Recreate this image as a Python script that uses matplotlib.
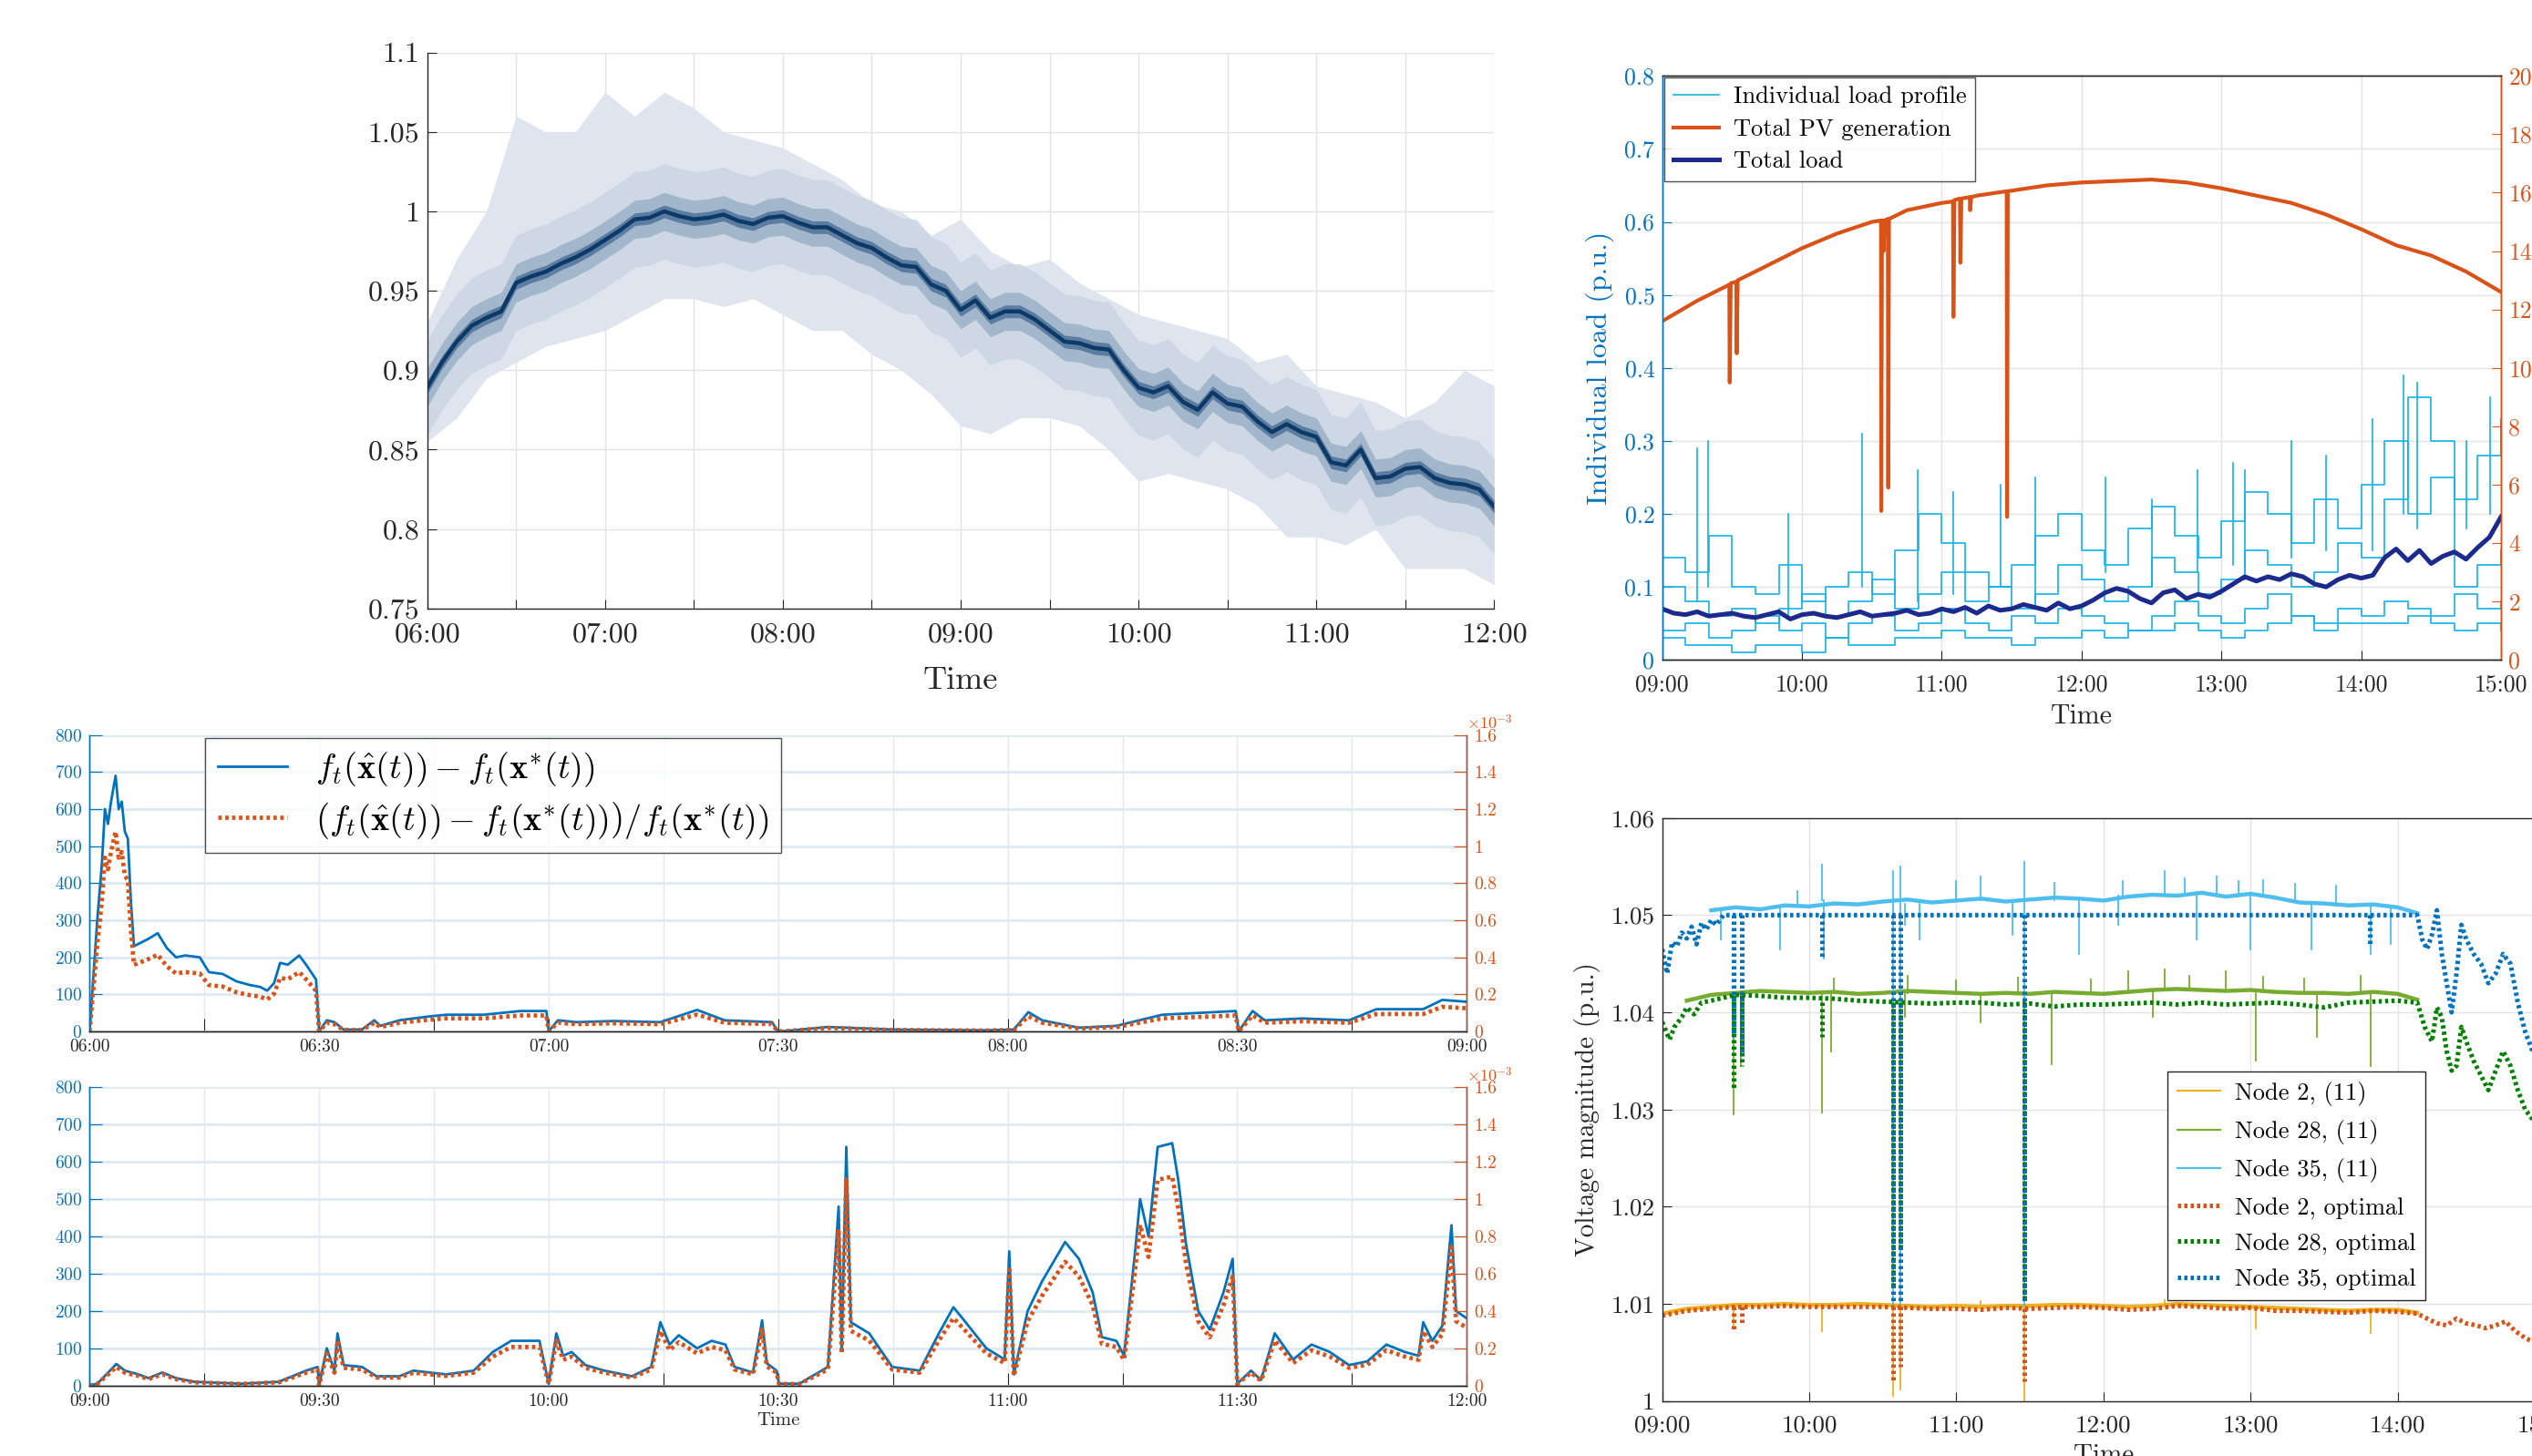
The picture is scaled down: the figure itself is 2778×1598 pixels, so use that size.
import numpy as np
import matplotlib
matplotlib.use("Agg")
from matplotlib import pyplot as plt
from matplotlib.lines import Line2D

plt.rcParams['font.family'] = 'cmr10'
plt.rcParams['mathtext.fontset'] = 'cm'
plt.rcParams['axes.unicode_minus'] = False
plt.rcParams['axes.formatter.use_mathtext'] = True

W, H = 2778, 1598
DARK = '#262626'
GRID = '#E3E3E3'
BLUE = '#0072BD'
ORANGE = '#D95319'

# ---------------- panel 1 : ensemble of normalised profiles (06:00-12:00, 5 min)
ens_mean = [0.889, 0.905, 0.918, 0.928, 0.933, 0.937, 0.955, 0.959, 0.962, 0.967, 0.971, 0.976,
            0.982, 0.988, 0.995, 0.996, 1.000, 0.997, 0.995, 0.996, 0.998, 0.994, 0.992, 0.996,
            0.997, 0.993, 0.990, 0.990, 0.985, 0.980, 0.977, 0.971, 0.966, 0.965, 0.954, 0.950,
            0.938, 0.944, 0.933, 0.937, 0.937, 0.932, 0.925, 0.918, 0.917, 0.914, 0.913, 0.900,
            0.889, 0.886, 0.890, 0.880, 0.875, 0.886, 0.879, 0.877, 0.868, 0.861, 0.866, 0.861,
            0.858, 0.842, 0.840, 0.850, 0.832, 0.833, 0.838, 0.839, 0.832, 0.829, 0.828, 0.825,
            0.814]
# spread of the individual profiles (10 min)
ens_upper = [0.93, 0.97, 1.00, 1.06, 1.05, 1.05, 1.075, 1.06, 1.075, 1.065, 1.05, 1.045, 1.04,
             1.03, 1.02, 1.005, 1.0, 0.985, 0.995, 0.975, 0.965, 0.97, 0.955, 0.945, 0.935, 0.93,
             0.925, 0.92, 0.905, 0.91, 0.89, 0.885, 0.88, 0.87, 0.88, 0.9, 0.89]
ens_lower = [0.855, 0.87, 0.895, 0.905, 0.915, 0.92, 0.925, 0.935, 0.945, 0.945, 0.94, 0.945,
             0.935, 0.925, 0.925, 0.91, 0.9, 0.885, 0.865, 0.86, 0.87, 0.87, 0.865, 0.85, 0.83,
             0.835, 0.83, 0.825, 0.815, 0.795, 0.795, 0.79, 0.8, 0.775, 0.775, 0.775, 0.765]

# ---------------- panel 2 : loads and PV (09:00-15:00)
load_a = [0.14, 0.12, 0.17, 0.10, 0.09, 0.13, 0.08, 0.10, 0.12, 0.09, 0.15, 0.20, 0.16, 0.12,
          0.10, 0.13, 0.17, 0.20, 0.15, 0.13, 0.18, 0.21, 0.17, 0.14, 0.19, 0.23, 0.20, 0.16,
          0.22, 0.18, 0.24, 0.30, 0.20, 0.25, 0.22, 0.28, 0.33]
load_b = [0.10, 0.08, 0.06, 0.07, 0.05, 0.07, 0.09, 0.06, 0.08, 0.11, 0.07, 0.09, 0.12, 0.08,
          0.10, 0.07, 0.09, 0.13, 0.11, 0.08, 0.10, 0.14, 0.12, 0.09, 0.11, 0.15, 0.13, 0.10,
          0.12, 0.16, 0.14, 0.22, 0.36, 0.30, 0.10, 0.13, 0.15]
load_c = [0.04, 0.05, 0.03, 0.04, 0.06, 0.04, 0.05, 0.03, 0.05, 0.06, 0.04, 0.05, 0.07, 0.05,
          0.04, 0.06, 0.05, 0.07, 0.06, 0.05, 0.04, 0.06, 0.08, 0.06, 0.05, 0.07, 0.09, 0.06,
          0.05, 0.07, 0.06, 0.08, 0.07, 0.06, 0.09, 0.07, 0.08]
load_d = [0.03, 0.02, 0.02, 0.01, 0.02, 0.02, 0.01, 0.03, 0.02, 0.02, 0.03, 0.03, 0.04, 0.03,
          0.03, 0.02, 0.03, 0.03, 0.04, 0.03, 0.04, 0.04, 0.05, 0.04, 0.03, 0.04, 0.05, 0.06,
          0.04, 0.05, 0.05, 0.05, 0.06, 0.05, 0.04, 0.05, 0.04]
# (hour, bottom, top) of short load peaks
load_spikes = [(9.25, 0.08, 0.29), (9.33, 0.10, 0.30), (9.9, 0.06, 0.2), (10.43, 0.10, 0.31),
               (10.83, 0.08, 0.26), (11.08, 0.09, 0.23), (11.42, 0.10, 0.24), (11.67, 0.08, 0.25),
               (12.17, 0.12, 0.25), (12.5, 0.10, 0.22), (12.83, 0.12, 0.26), (13.08, 0.13, 0.27),
               (13.17, 0.12, 0.26), (13.5, 0.14, 0.30), (13.75, 0.15, 0.28), (14.08, 0.15, 0.33),
               (14.3, 0.20, 0.39), (14.4, 0.18, 0.38), (14.75, 0.18, 0.30), (14.92, 0.20, 0.36)]
# total load, right axis, 5 min
total_load = [1.75, 1.60, 1.55, 1.65, 1.50, 1.55, 1.60, 1.50, 1.45, 1.55, 1.65, 1.40,
              1.55, 1.60, 1.50, 1.45, 1.55, 1.65, 1.50, 1.55, 1.60, 1.70, 1.55, 1.60,
              1.75, 1.65, 1.80, 1.60, 1.85, 1.70, 1.75, 1.90, 1.80, 1.70, 1.95, 1.75,
              1.85, 2.05, 2.30, 2.45, 2.35, 2.10, 1.95, 2.30, 2.40, 2.10, 2.25, 2.15,
              2.35, 2.60, 2.85, 2.70, 2.85, 2.75, 2.95, 2.85, 2.60, 2.50, 2.75, 2.90,
              2.80, 2.90, 3.50, 3.80, 3.40, 3.75, 3.30, 3.55, 3.70, 3.45, 3.85, 4.20,
              4.90]
pv_hour = [9.0, 9.25, 9.48, 9.483, 9.49, 9.53, 9.533, 9.54, 9.75, 10.0, 10.25, 10.5, 10.565,
           10.567, 10.572, 10.58, 10.583, 10.59, 10.614, 10.617, 10.622, 10.75, 11.0, 11.08,
           11.083, 11.09, 11.13, 11.133, 11.14, 11.2, 11.203, 11.21, 11.25, 11.464, 11.467,
           11.472, 11.75, 12.0, 12.25, 12.5, 12.75, 13.0, 13.25, 13.5, 13.75, 14.0, 14.25,
           14.5, 14.75, 15.0]
pv_value = [11.6, 12.3, 12.85, 9.5, 12.9, 12.95, 10.5, 13.0, 13.5, 14.1, 14.6, 15.0, 15.05,
            5.1, 15.05, 15.05, 14.0, 15.05, 15.1, 5.9, 15.1, 15.4, 15.65, 15.7, 11.75, 15.75,
            15.8, 13.6, 15.8, 15.85, 15.4, 15.85, 15.9, 16.05, 4.9, 16.05, 16.25, 16.35, 16.4,
            16.45, 16.35, 16.15, 15.9, 15.65, 15.25, 14.75, 14.2, 13.85, 13.3, 12.6]

# ---------------- panels 3 and 4 : cost gap (minutes after start)
gap1_min = [0, 0.5, 1, 1.6, 2, 2.4, 2.8, 3.4, 3.8, 4.2, 4.6, 5, 5.4, 5.8, 7.7, 8.9, 10.1, 11.3,
            12.5, 14.4, 15.6, 17.4, 19.2, 21, 22.3, 23.2, 24.1, 24.9, 25.9, 27.4, 28.3, 29.6,
            30, 31, 32, 33.2, 35.6, 37.2, 38, 40.5, 44.2, 46.6, 51.5, 56.3, 59.7, 60, 61.2,
            63.6, 68.5, 74.6, 79.4, 83, 89.2, 89.8, 90.4, 96.5, 105, 117, 120.8, 122.7, 124.5,
            129.3, 134.2, 140.2, 145.1, 149.8, 150.2, 152, 153.6, 158.5, 164.6, 168.2, 174.3,
            176.8, 180]
gap1_val = [0, 150, 300, 450, 600, 560, 620, 690, 600, 620, 540, 520, 350, 230, 250, 265, 225,
            200, 205, 200, 160, 155, 135, 125, 120, 110, 130, 185, 180, 205, 180, 140, 0, 30,
            25, 5, 5, 30, 15, 30, 40, 45, 45, 55, 55, 0, 30, 25, 28, 25, 58, 30, 25, 5, 0, 12,
            5, 3, 5, 52, 30, 10, 15, 45, 50, 55, 0, 55, 30, 35, 30, 60, 60, 85, 80]
gap2_min = [0, 1, 2.2, 3.5, 4.6, 6.4, 7.7, 9.5, 11.3, 13.7, 19.8, 24.7, 28.3, 29.8, 30, 31, 32,
            32.4, 33.2, 35.6, 37.5, 40.5, 42.3, 46.6, 50.2, 52.7, 55.1, 58.8, 60, 61, 61.9, 63,
            64.8, 67.3, 68.5, 70.9, 73.4, 74, 74.6, 75.8, 77, 79.4, 81.3, 83.1, 84.3, 86.7,
            87.9, 88.5, 89.8, 90.1, 92.8, 94, 96.5, 97.9, 98.3, 98.9, 99.5, 101.9, 104.9,
            108.5, 111, 112.9, 114.1, 117.2, 119.6, 120.2, 120.8, 122.6, 124.5, 127.5, 129.3,
            131.1, 132.3, 134.2, 135.2, 136.6, 137.3, 138.4, 139.6, 141.5, 142.3, 143.3, 144.9,
            146.4, 148.2, 149.4, 150, 151.8, 153.1, 154.9, 157.3, 159.7, 162.1, 164.6, 167,
            169.5, 171.9, 173.7, 174.3, 175.5, 176.8, 178, 178.6, 180]
gap2_val = [0, 5, 30, 58, 40, 30, 20, 35, 20, 10, 5, 10, 40, 50, 0, 100, 40, 140, 55, 50, 25,
            25, 40, 30, 40, 90, 120, 120, 5, 140, 80, 90, 55, 40, 35, 25, 50, 110, 170, 110,
            135, 100, 120, 110, 50, 35, 175, 60, 40, 5, 5, 20, 50, 480, 100, 640, 170, 140, 50,
            40, 140, 210, 180, 100, 70, 360, 30, 200, 280, 385, 340, 250, 130, 120, 80, 350,
            500, 400, 640, 650, 550, 380, 200, 150, 250, 340, 5, 40, 15, 140, 70, 110, 90, 55,
            65, 110, 90, 80, 170, 120, 160, 430, 200, 180]
fstar1 = 6.4e5
fstar2 = 5.8e5

# ---------------- panel 5 : node voltages (minutes after 09:00)
n2_11_min = list(range(0, 301, 10)) + [308]
n2_11 = [1.0090, 1.0095, 1.0097, 1.0099, 1.0099, 1.0100, 1.0099, 1.0099, 1.0100, 1.0099,
         1.0098, 1.0097, 1.0098, 1.0097, 1.0098, 1.0098, 1.0099, 1.0099, 1.0098, 1.0097,
         1.0098, 1.0100, 1.0099, 1.0098, 1.0097, 1.0096, 1.0095, 1.0094, 1.0093, 1.0094,
         1.0094, 1.0091]
n28_11_min = list(range(10, 301, 10)) + [308]
n28_11 = [1.0412, 1.0418, 1.0420, 1.0422, 1.0421, 1.0420, 1.0421, 1.0419, 1.0420, 1.0422,
          1.0421, 1.0420, 1.0419, 1.0420, 1.0419, 1.0421, 1.0420, 1.0419, 1.0421, 1.0423,
          1.0424, 1.0423, 1.0422, 1.0423, 1.0421, 1.0420, 1.0420, 1.0419, 1.0421, 1.0419,
          1.0413]
n35_11_min = list(range(20, 301, 10)) + [308]
n35_11 = [1.0505, 1.0508, 1.0506, 1.0510, 1.0509, 1.0512, 1.0511, 1.0514, 1.0516, 1.0513,
          1.0515, 1.0517, 1.0514, 1.0516, 1.0518, 1.0517, 1.0515, 1.0519, 1.0521, 1.0520,
          1.0523, 1.0519, 1.0522, 1.0518, 1.0513, 1.0512, 1.0510, 1.0511, 1.0508, 1.0502]
# (minute, from, to)
n2_11_spk = [(94.2, 1.0099, 1.0005), (97.2, 1.0099, 1.0012), (147.6, 1.0098, 1.0),
             (29, 1.0099, 1.0075), (65, 1.0098, 1.0072), (242, 1.0095, 1.0075),
             (289, 1.0094, 1.0070), (130, 1.0098, 1.0103), (205, 1.0099, 1.0104)]
n28_11_spk = [(29, 1.042, 1.0295), (32, 1.042, 1.0345), (65, 1.042, 1.0297), (69, 1.042, 1.036),
              (99, 1.042, 1.0395), (159, 1.042, 1.0347), (242, 1.042, 1.035), (289, 1.042, 1.0345),
              (267, 1.042, 1.0375), (130, 1.042, 1.039), (200, 1.0423, 1.0395),
              (70, 1.042, 1.0435), (100, 1.042, 1.0438), (145, 1.042, 1.0436), (190, 1.0423, 1.0442),
              (205, 1.0424, 1.0444), (215, 1.0423, 1.0438), (230, 1.0422, 1.0442),
              (245, 1.0421, 1.0437), (262, 1.042, 1.0435), (285, 1.042, 1.0438),
              (175, 1.042, 1.0434), (120, 1.042, 1.0433),
              (94.2, 1.042, 1.0135), (97.2, 1.042, 1.0145), (147.6, 1.042, 1.011)]
n35_11_spk = [(94.2, 1.051, 1.0545), (97, 1.051, 1.055), (65, 1.0515, 1.0552), (147.6, 1.0515, 1.0555),
              (130, 1.0515, 1.054), (188, 1.052, 1.0535), (205, 1.052, 1.0545), (213, 1.052, 1.0538),
              (226, 1.052, 1.054), (235, 1.052, 1.0535), (245, 1.052, 1.0536), (258, 1.0515, 1.0532),
              (275, 1.051, 1.053), (120, 1.0515, 1.0535), (160, 1.0515, 1.0533), (55, 1.051, 1.0525),
              (24, 1.0505, 1.0475), (48, 1.0508, 1.0465), (66, 1.0515, 1.0455), (105, 1.0512, 1.0475),
              (99, 1.0512, 1.049), (170, 1.0517, 1.046), (218, 1.052, 1.0475), (240, 1.052, 1.0465),
              (265, 1.0513, 1.0465), (289, 1.051, 1.046), (297, 1.0508, 1.047), (143, 1.0515, 1.048),
              (186, 1.052, 1.049), (94.2, 1.051, 1.0098), (97.2, 1.051, 1.0098), (147.6, 1.0515, 1.0098)]

n2_opt_min = list(range(0, 301, 10)) + [308, 312, 316, 320, 324, 328, 332, 336, 340, 344, 348,
                                        352, 356, 360]
n2_opt = [1.0088, 1.0093, 1.0095, 1.0097, 1.0097, 1.0098, 1.0097, 1.0097, 1.0097, 1.0097,
          1.0096, 1.0095, 1.0095, 1.0094, 1.0096, 1.0095, 1.0096, 1.0097, 1.0096, 1.0094,
          1.0095, 1.0098, 1.0097, 1.0095, 1.0096, 1.0093, 1.0093, 1.0092, 1.0091, 1.0093,
          1.0092, 1.0090, 1.0085, 1.0080, 1.0078, 1.0085, 1.0080, 1.0078, 1.0075, 1.0078,
          1.0082, 1.0072, 1.0065, 1.0060, 1.0055]
n28_opt_min = [0, 3, 5, 8, 10, 13, 16] + list(range(20, 301, 10)) + \
              [308, 311, 314, 316, 318, 320, 322, 324, 326, 328, 331, 334, 337, 340, 343, 346,
               349, 352, 355, 360]
n28_opt = [1.0390, 1.0372, 1.0385, 1.0395, 1.0405, 1.0398, 1.0410, 1.0412, 1.0418, 1.0417,
           1.0415, 1.0415, 1.0414, 1.0412, 1.0411, 1.0410, 1.0409, 1.0410, 1.0410, 1.0408,
           1.0409, 1.0406, 1.0408, 1.0408, 1.0409, 1.0410, 1.0408, 1.0410, 1.0408, 1.0409,
           1.0410, 1.0408, 1.0405, 1.0410, 1.0411, 1.0412, 1.0410, 1.0385, 1.0370, 1.0405,
           1.0395, 1.0360, 1.0340, 1.0345, 1.0385, 1.0370, 1.0350, 1.0335, 1.0320, 1.0340,
           1.0360, 1.0345, 1.0320, 1.0300, 1.0290, 1.0270]
n35_opt_min = [0, 2, 4, 6, 8, 10, 12, 14, 16, 18, 20, 22, 25, 308, 310, 312, 314, 316, 318,
               320, 322, 324, 326, 328, 331, 334, 337, 340, 343, 346, 349, 352, 355, 360]
n35_opt = [1.0465, 1.0440, 1.0472, 1.0468, 1.0482, 1.0476, 1.0488, 1.0470, 1.0492, 1.0485,
           1.0495, 1.0490, 1.0500, 1.0500, 1.0475, 1.0465, 1.0480, 1.0505, 1.0460, 1.0430,
           1.0400, 1.0440, 1.0490, 1.0475, 1.0460, 1.0450, 1.0430, 1.0440, 1.0460, 1.0450,
           1.0410, 1.0380, 1.0360, 1.0330]
n2_opt_dip = [(29.1, 1.0097, 1.0072), (32.4, 1.0097, 1.0078), (94.2, 1.0097, 1.002),
              (97.2, 1.0097, 1.0035), (147.6, 1.0095, 1.002)]
n28_opt_dip = [(29.1, 1.0418, 1.032), (32.4, 1.0418, 1.0345), (65, 1.041, 1.0375),
               (94.2, 1.041, 1.0116), (97.2, 1.041, 1.0157), (147.6, 1.041, 1.0105)]
n35_opt_dip = [(29.1, 1.05, 1.0375), (32.4, 1.05, 1.0355), (65, 1.05, 1.0455), (94.2, 1.05, 1.0100),
               (97.2, 1.05, 1.0100), (147.6, 1.05, 1.0100), (288.6, 1.05, 1.047)]


def box(l, r, t, b):
    return [l / W, 1 - b / H, (r - l) / W, (b - t) / H]


def hhmm(h):
    hh = int(h + 1e-6)
    mm = int(round((h - hh) * 60))
    return f"{hh:02d}:{mm:02d}"


def style(ax, size, xpad=6):
    ax.tick_params(direction='in', length=7, width=0.8, colors=DARK, labelsize=size, pad=6)
    ax.tick_params(axis='x', pad=xpad)
    for s in ax.spines.values():
        s.set_color(DARK)
        s.set_linewidth(1.0)


fig = plt.figure(figsize=(W / 100, H / 100), dpi=100)

# ================= panel 1
ax1 = fig.add_axes(box(468.7, 1639.3, 57.7, 667.7))
t_mean = np.linspace(6, 12, len(ens_mean))
t_env = np.linspace(6, 12, len(ens_upper))
ax1.fill_between(t_env, ens_lower, ens_upper, color='#DEE5EE', lw=0)
m = np.array(ens_mean)
ax1.fill_between(t_mean, m - 0.03, m + 0.03, color='#CAD5E2', lw=0, alpha=0.8)
ax1.fill_between(t_mean, m - 0.012, m + 0.012, color='#98AEC7', lw=0, alpha=0.8)
ax1.fill_between(t_mean, m - 0.004, m + 0.004, color='#4C6F96', lw=0, alpha=0.8)
ax1.plot(t_mean, ens_mean, color='#0B3A68', lw=3.2)
ax1.set_xlim(6, 12)
ax1.set_ylim(0.75, 1.1)
xt = np.arange(6, 12.01, 0.5)
ax1.set_xticks(xt)
ax1.set_xticklabels([hhmm(h) if h % 1 == 0 else '' for h in xt])
yt = [0.75, 0.8, 0.85, 0.9, 0.95, 1.0, 1.05, 1.1]
ax1.set_yticks(yt)
ax1.set_yticklabels(['0.75', '0.8', '0.85', '0.9', '0.95', '1', '1.05', '1.1'])
ax1.grid(True, color=GRID, lw=1.0)
ax1.set_axisbelow(True)
style(ax1, 23, xpad=11)
ax1.spines['top'].set_visible(False)
ax1.spines['right'].set_visible(False)
ax1.set_xlabel('Time', fontsize=26, color=DARK, labelpad=15)

# ================= panel 2
ax2 = fig.add_axes(box(1823.7, 2744, 83.3, 724.3))
t_load = np.linspace(9, 15, len(load_a))
LOADC = '#14B1E7'
for tr in (load_a, load_b, load_c, load_d):
    ax2.plot(t_load, tr, color=LOADC, lw=1.2, drawstyle='steps-post')
for h, lo, hi in load_spikes:
    ax2.plot([h, h], [lo, hi], color=LOADC, lw=1.2)
ax2.set_xlim(9, 15)
ax2.set_ylim(0, 0.8)
ax2.set_xticks(np.arange(9, 15.01, 1))
ax2.set_xticklabels([hhmm(h) for h in np.arange(9, 15.01, 1)])
ax2.set_yticks(np.arange(0, 0.81, 0.1))
ax2.set_yticklabels(['0', '0.1', '0.2', '0.3', '0.4', '0.5', '0.6', '0.7', '0.8'])
ax2.grid(True, color=GRID, lw=1.0)
ax2.set_axisbelow(True)
style(ax2, 18.5, xpad=11)
ax2.tick_params(axis='y', colors=BLUE)
ax2.tick_params(axis='x', colors=DARK)
ax2.spines['left'].set_color(BLUE)
ax2.set_ylabel('Individual load (p.u.)', fontsize=23, color=BLUE, labelpad=8)
ax2.set_xlabel('Time', fontsize=21.5, color=DARK, labelpad=7)

ax2r = ax2.twinx()
t_total = np.linspace(9, 15, len(total_load))
ax2r.plot(pv_hour, pv_value, color=ORANGE, lw=3.0)
ax2r.plot(t_total, total_load, color='#1B2A8C', lw=3.6)
ax2r.set_ylim(0, 20)
ax2r.set_yticks(np.arange(0, 20.1, 2))
ax2r.set_yticklabels([str(v) for v in range(0, 21, 2)])
style(ax2r, 18.5, xpad=11)
ax2r.tick_params(axis='y', colors=ORANGE)
ax2r.spines['right'].set_color(ORANGE)
ax2r.spines['left'].set_color(BLUE)
h2 = [Line2D([], [], color=LOADC, lw=1.2), Line2D([], [], color=ORANGE, lw=3),
      Line2D([], [], color='#1B2A8C', lw=3.6)]
leg2 = ax2r.legend(h2, ['Individual load profile', 'Total PV generation', 'Total load'],
                   loc='upper left', bbox_to_anchor=(0.003, 0.997), borderaxespad=0,
                   fontsize=19, frameon=True, fancybox=False, handlelength=1.9,
                   labelspacing=0.45, borderpad=0.35, handletextpad=0.6)
leg2.get_frame().set_edgecolor(DARK)
leg2.get_frame().set_linewidth(1.0)


# ================= panels 3 and 4
def gap_panel(rect, start, minutes, values, fstar, xlabel):
    ax = fig.add_axes(rect)
    hrs = start + np.array(minutes) / 60.0
    ax.plot(hrs, values, color=BLUE, lw=2.0)
    ax.set_xlim(start, start + 3)
    ax.set_ylim(0, 800)
    ticks = np.arange(start, start + 3.01, 0.25)
    ax.set_xticks(ticks)
    ax.set_xticklabels([hhmm(h) if round(h * 60) % 30 == 0 else '' for h in ticks])
    ax.set_yticks(np.arange(0, 801, 100))
    ax.xaxis.grid(True, color='#E4E7EB', lw=1.0)
    ax.yaxis.grid(True, color='#DDEAF4', lw=2.0)
    ax.set_axisbelow(True)
    style(ax, 14)
    ax.tick_params(axis='x', length=10)
    ax.tick_params(axis='y', colors=BLUE, length=10)
    ax.spines['left'].set_color(BLUE)
    ax.spines['top'].set_visible(False)
    if xlabel:
        ax.set_xlabel('Time', fontsize=15, color=DARK, labelpad=2)
    axr = ax.twinx()
    axr.plot(hrs, np.array(values) / fstar, color=ORANGE, lw=3.4, ls=(0, (0.8, 0.8)))
    axr.set_ylim(0, 1.6e-3)
    rt = np.arange(0, 1.61, 0.2)
    axr.set_yticks(rt * 1e-3)
    axr.set_yticklabels(['0', '0.2', '0.4', '0.6', '0.8', '1', '1.2', '1.4', '1.6'])
    style(axr, 14)
    axr.tick_params(axis='y', colors=ORANGE, length=10)
    axr.spines['right'].set_color(ORANGE)
    axr.spines['left'].set_color(BLUE)
    axr.spines['top'].set_visible(False)
    axr.text(1.0, 1.01, r'$\times10^{-3}$', transform=axr.transAxes, color=ORANGE,
             fontsize=13, ha='left', va='bottom')
    return ax, axr


ax3, ax3r = gap_panel(box(98.3, 1609.3, 806.7, 1132), 6, gap1_min, gap1_val, fstar1, False)
ax4, ax4r = gap_panel(box(98.3, 1609.3, 1193.3, 1520.7), 9, gap2_min, gap2_val, fstar2, True)
h3 = [Line2D([], [], color=BLUE, lw=2.0),
      Line2D([], [], color=ORANGE, lw=3.4, ls=(0, (0.8, 0.8)))]
leg3 = ax3r.legend(h3, [r'$f_t(\hat{\mathbf{x}}(t)) - f_t(\mathbf{x}^{*}(t))$',
                        r'$\left(f_t(\hat{\mathbf{x}}(t)) - f_t(\mathbf{x}^{*}(t))\right)/f_t(\mathbf{x}^{*}(t))$'],
                   loc='upper left', bbox_to_anchor=(0.084, 0.99), borderaxespad=0,
                   fontsize=27.5, frameon=True, fancybox=False, handlelength=2.0,
                   labelspacing=0.3, borderpad=0.35)
leg3.get_frame().set_edgecolor(DARK)
leg3.get_frame().set_linewidth(1.0)

# ================= panel 5
ax5 = fig.add_axes(box(1823.7, 2792, 897.7, 1537.8))
YEL, GRN, LBL = '#EDB120', '#77AC30', '#4DBEEE'
DGRN = '#008000'


def hrs(mins):
    return 9 + np.array(mins) / 60.0


for mins, vals, spk, c in ((n2_11_min, n2_11, n2_11_spk, YEL),
                           (n28_11_min, n28_11, n28_11_spk, GRN),
                           (n35_11_min, n35_11, n35_11_spk, LBL)):
    ax5.plot(hrs(mins), vals, color=c, lw=3.2)
    for mm, a, b in spk:
        ax5.plot([9 + mm / 60, 9 + mm / 60], [a, b], color=c, lw=1.3)

dot = (0, (0.7, 0.7))
for mins, vals, dips, c in ((n2_opt_min, n2_opt, n2_opt_dip, ORANGE),
                            (n28_opt_min, n28_opt, n28_opt_dip, DGRN),
                            (n35_opt_min, n35_opt, n35_opt_dip, BLUE)):
    ax5.plot(hrs(mins), vals, color=c, lw=3.6, ls=dot)
    for mm, a, b in dips:
        ax5.plot([9 + mm / 60, 9 + mm / 60], [a, b], color=c, lw=3.6, ls=dot)

ax5.set_xlim(9, 15)
ax5.set_ylim(1.0, 1.06)
ax5.set_xticks(np.arange(9, 15.01, 1))
ax5.set_xticklabels([hhmm(h) for h in np.arange(9, 15.01, 1)])
ax5.set_yticks(np.arange(1.0, 1.0601, 0.01))
ax5.set_yticklabels(['1', '1.01', '1.02', '1.03', '1.04', '1.05', '1.06'])
ax5.grid(True, color=GRID, lw=1.0)
ax5.set_axisbelow(True)
style(ax5, 19.5, xpad=11)
ax5.set_ylabel('Voltage magnitude (p.u.)', fontsize=21, color=DARK, labelpad=8)
ax5.set_xlabel('Time', fontsize=21, color=DARK, labelpad=6)
h5 = [Line2D([], [], color=YEL, lw=1.5), Line2D([], [], color=GRN, lw=1.5),
      Line2D([], [], color=LBL, lw=1.5), Line2D([], [], color=ORANGE, lw=3.6, ls=dot),
      Line2D([], [], color=DGRN, lw=3.6, ls=dot), Line2D([], [], color=BLUE, lw=3.6, ls=dot)]
leg5 = ax5.legend(h5, ['Node 2, (11)', 'Node 28, (11)', 'Node 35, (11)', 'Node 2, optimal',
                       'Node 28, optimal', 'Node 35, optimal'],
                  loc='upper left', bbox_to_anchor=(0.5724, 0.565), borderaxespad=0,
                  fontsize=19, frameon=True, fancybox=False, handlelength=1.8,
                  labelspacing=0.58, borderpad=0.4, handletextpad=0.6, framealpha=1)
leg5.get_frame().set_edgecolor(DARK)
leg5.get_frame().set_linewidth(1.0)

fig.savefig('out.png', dpi=100)
